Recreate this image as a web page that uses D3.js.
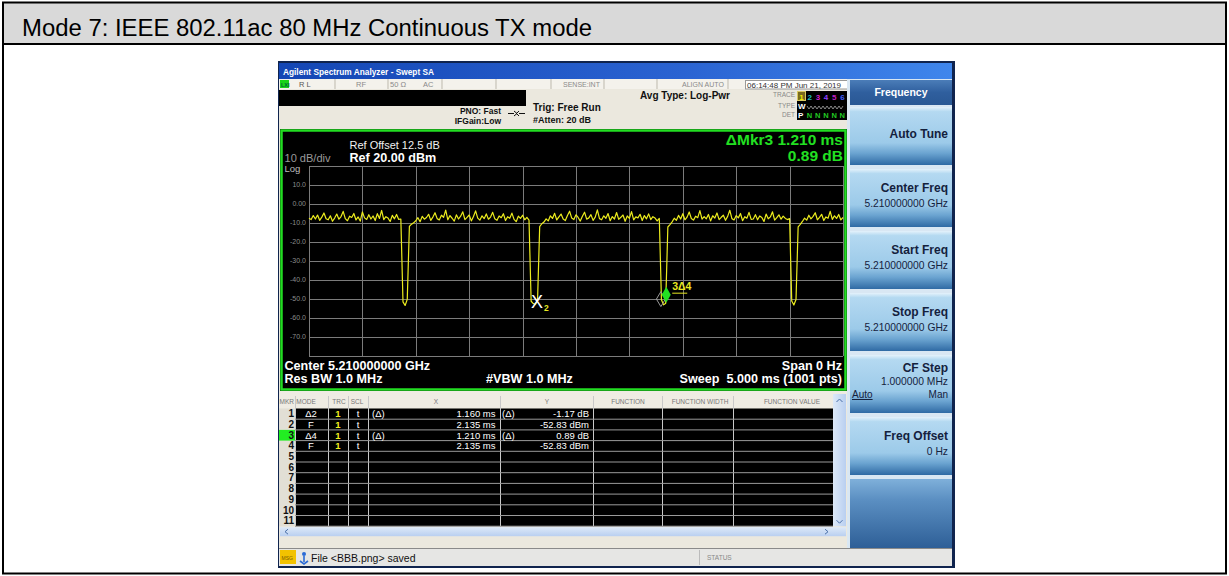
<!DOCTYPE html>
<html><head><meta charset="utf-8">
<script src="https://cdn.jsdelivr.net/npm/d3@7"></script>
<style>
html,body{margin:0;padding:0;background:#fff;}
svg{display:block;font-family:"Liberation Sans",Arial,Helvetica,sans-serif;}
</style></head><body>
<svg id="c" width="1229" height="576"></svg>
<script>
// ---------------- DATA ----------------
const pageTitle = "Mode 7: IEEE 802.11ac 80 MHz Continuous TX mode";
const windowTitle = "Agilent Spectrum Analyzer - Swept SA";
const sweepMs = 5;          // span of time axis
const stepMs = 0.02;        // spacing of the trace samples below
// trace level (dBm), one value every 0.02 ms from 0 to 5 ms
const traceDbm = [
 -7.5,-8.2,-6.1,-7.9,-5.8,-8.6,-6.9,-4.7,-7.8,-8.3,
 -6.2,-9.1,-7.4,-5.3,-8.0,-6.6,-3.9,-7.7,-8.8,-6.4,
 -7.1,-5.0,-8.4,-6.8,-9.0,-4.2,-7.3,-8.1,-5.6,-7.9,
 -6.3,-8.7,-5.1,-7.6,-3.4,-8.2,-6.7,-7.4,-9.2,-6.0,
 -7.8,-5.5,-8.1,-7.9,
 -51.5,-53.4,-50.2,
 -11.8,-10.6,-9.9,
 -8.8,-7.2,-9.3,-6.5,-8.0,-7.1,-5.4,-8.6,-6.9,-4.6,
 -7.7,-8.4,-5.9,-7.0,-3.2,-8.3,-6.1,-7.5,-9.0,-5.7,
 -7.9,-6.4,-4.1,-8.2,-7.0,-5.8,-8.9,-6.6,-3.6,-7.4,
 -8.5,-6.2,-7.7,-5.2,-8.0,-6.9,-4.4,-7.8,-8.6,-6.3,
 -7.2,-5.1,-8.7,-6.7,-7.5,-4.8,-8.1,-9.3,-6.4,-7.6,
 -5.9,-8.3,-7.0,-8.5,
 -51.2,-52.4,-52.9,-50.6,
 -11.9,-10.4,
 -9.5,-7.8,-8.9,-6.2,-7.6,-4.9,-8.4,-6.8,-5.3,-7.9,
 -8.7,-6.0,-3.8,-7.4,-8.2,-5.7,-7.1,-9.0,-6.5,-4.3,
 -8.0,-7.3,-5.6,-8.6,-6.9,-3.1,-7.7,-8.3,-6.2,-7.5,
 -5.0,-8.8,-6.6,-7.9,-4.5,-8.1,-7.0,-5.8,-9.1,-6.3,
 -7.6,-4.0,-8.4,-6.8,-7.3,-5.4,-8.7,-6.1,-7.8,-5.2,
 -8.2,-6.7,-7.4,-8.9,-7.6,
 -50.4,-53.1,-52.2,
 -12.1,-10.8,
 -9.4,-7.5,-8.6,-6.0,-7.9,-5.1,-8.3,-6.9,-4.2,-7.6,
 -8.5,-6.4,-7.2,-3.5,-8.0,-6.6,-7.8,-5.5,-8.9,-6.2,
 -7.4,-4.7,-8.2,-7.0,-5.9,-8.6,-6.5,-3.3,-7.7,-8.4,
 -6.1,-7.3,-5.0,-8.8,-6.7,-7.5,-4.4,-8.1,-7.9,-5.6,
 -8.3,-6.3,-7.1,-9.2,-5.3,-7.8,-6.8,-4.1,-8.5,-7.2,
 -5.7,-8.0,-6.4,-7.6,-8.2,-7.7,
 -51.0,-53.2,-50.3,
 -12.0,-10.7,
 -9.2,-7.4,-8.5,-5.9,-7.8,-6.5,-4.6,-8.3,-7.0,-5.4,
 -8.7,-6.8,-7.5,-3.9,-8.1,-6.2,-7.6,-5.5,-8.4,-7.1
];
const yTickValues = [10, 0, -10, -20, -30, -40, -50, -60, -70];
const yTickLabels = ["10.0", "0.00", "-10.0", "-20.0", "-30.0", "-40.0", "-50.0", "-60.0", "-70.0"];
const refLevel = 20, dbPerDiv = 10, nDiv = 10;
// markers: time (ms) and level (dBm)
const markerIds   = ["1", "2", "3", "4"];
const markerTimes = [3.295, 2.135, 3.345, 2.135];
const markerLevels= [-54.00, -52.83, -51.94, -52.83];
// marker table
const tableHeaders = ["MKR","MODE","TRC","SCL","X","Y","FUNCTION","FUNCTION WIDTH","FUNCTION VALUE"];
const tableRows = [
 ["1","Δ2","1","t","(Δ)","1.160 ms","(Δ)","-1.17 dB"],
 ["2","F","1","t","","2.135 ms","","-52.83 dBm"],
 ["3","Δ4","1","t","(Δ)","1.210 ms","(Δ)","0.89 dB"],
 ["4","F","1","t","","2.135 ms","","-52.83 dBm"],
 ["5","","","","","","",""],["6","","","","","","",""],["7","","","","","","",""],
 ["8","","","","","","",""],["9","","","","","","",""],["10","","","","","","",""],["11","","","","","","",""]
];
const softkeyLabels = ["Auto Tune","Center Freq","Start Freq","Stop Freq","CF Step","Freq Offset"];
const softkeyValues = ["","5.210000000 GHz","5.210000000 GHz","5.210000000 GHz","1.000000 MHz","0 Hz"];
const traceNums = ["1","2","3","4","5","6"];
const traceColors = ["#f0f000","#20c0c0","#d020d0","#9040ff","#c020c0","#4060ff"];

// ---------------- DRAW ----------------
const svg = d3.select("#c");
const defs = svg.append("defs");
function grad(id, stops, horiz){
  const g = defs.append("linearGradient").attr("id",id)
    .attr("x1",0).attr("y1",0).attr("x2",horiz?1:0).attr("y2",horiz?0:1);
  stops.forEach(s=>g.append("stop").attr("offset",s[0]).attr("stop-color",s[1]));
}
grad("tb",[[0,"#1446b4"],[0.6,"#2a63d2"],[1,"#3f86ec"]],true);
grad("btn",[[0,"#e4f2fb"],[0.08,"#b4d9f1"],[0.62,"#9ccae9"],[0.8,"#6aa3d0"],[1,"#2f6aa4"]],false);
grad("fhead",[[0,"#4b7db8"],[0.5,"#2f5f9e"],[1,"#2a5894"]],false);
grad("blank",[[0,"#7fb0da"],[0.3,"#5b8fc2"],[1,"#2e5f97"]],false);
grad("sb",[[0,"#dde9f8"],[1,"#b9cff0"]],true);
grad("sbh",[[0,"#dde9f8"],[1,"#b9cff0"]],false);

function txt(g,x,y,s,o){
  o=o||{};
  const t=g.append("text").attr("x",x).attr("y",y).text(s)
    .attr("font-size",o.size||10).attr("fill",o.fill||"#000")
    .attr("font-weight",o.bold?"bold":"normal");
  if(o.anchor) t.attr("text-anchor",o.anchor);
  if(o.len) t.attr("textLength",o.len).attr("lengthAdjust","spacingAndGlyphs");
  if(o.deco) t.attr("text-decoration",o.deco);
  return t;
}

// page frame + header
svg.append("rect").attr("x",3).attr("y",3).attr("width",1222).attr("height",41).attr("fill","#d9d9d9");
const fr = svg.append("g").attr("stroke","#000").attr("stroke-width",2).attr("fill","none");
fr.append("rect").attr("x",3).attr("y",2.5).attr("width",1223).attr("height",571);
fr.append("line").attr("x1",3).attr("x2",1226).attr("y1",44).attr("y2",44);
txt(svg,22,36,pageTitle,{size:23.5,fill:"#000",len:570});

// analyzer window
const A = svg.append("g");
A.append("rect").attr("x",278).attr("y",61).attr("width",677).attr("height",507).attr("fill","#10244e");
A.append("rect").attr("x",279).attr("y",63).attr("width",673).attr("height",503).attr("fill","#ebe8de");
A.append("rect").attr("x",279).attr("y",63).attr("width",673).attr("height",16).attr("fill","url(#tb)");
txt(A,283,75,windowTitle,{size:8.5,bold:true,fill:"#fff",len:151});

// status row
A.append("rect").attr("x",279).attr("y",79).attr("width",568).attr("height",10).attr("fill","#f4f2ec");
[335,388,442,496,551,604,657,728].forEach(x=>A.append("line").attr("x1",x).attr("x2",x).attr("y1",79).attr("y2",89).attr("stroke","#bdb9ad"));
A.append("rect").attr("x",280).attr("y",80).attr("width",9).attr("height",8).attr("fill","#19d419");
txt(A,281,87,"LXI",{size:5.5,bold:true,fill:"#063"});
const sc="#8a8a8a";
txt(A,299,87,"R L",{size:7.5,fill:"#555"});
txt(A,356,87,"RF",{size:7.5,fill:sc});
txt(A,390,87,"50 Ω",{size:7.5,fill:sc});
txt(A,423,87,"AC",{size:7.5,fill:sc});
txt(A,563,87,"SENSE:INT",{size:7,fill:sc});
txt(A,682,87,"ALIGN AUTO",{size:7,fill:sc});
A.append("rect").attr("x",745.5).attr("y",80.5).attr("width",102).attr("height",8.5).attr("fill","#fff").attr("stroke","#999");
txt(A,747,87.5,"06:14:48 PM Jun 21, 2019",{size:7.5,fill:"#333",len:94});

// black bar & settings
A.append("rect").attr("x",279).attr("y",90).attr("width",247).attr("height",16).attr("fill","#000");
txt(A,501,114,"PNO: Fast",{size:8.5,bold:true,anchor:"end",fill:"#111"});
txt(A,501,124,"IFGain:Low",{size:8.5,bold:true,anchor:"end",fill:"#111"});
A.append("path").attr("d","M508,113.5 H514 M514,111 L517,113.5 L514,116 M525,113.5 H519 M519,111 L516.5,113.5 L519,116").attr("stroke","#111").attr("fill","none").attr("stroke-width",1);
txt(A,533,111,"Trig: Free Run",{size:10,bold:true,fill:"#111"});
txt(A,533,123,"#Atten: 20 dB",{size:9,bold:true,fill:"#111"});
txt(A,640,99,"Avg Type: Log-Pwr",{size:10,bold:true,fill:"#111"});
// trace panel
txt(A,795,97,"TRACE",{size:6.5,anchor:"end",fill:"#888"});
txt(A,795,108,"TYPE",{size:6.5,anchor:"end",fill:"#888"});
txt(A,795,117,"DET",{size:6.5,anchor:"end",fill:"#888"});
A.append("rect").attr("x",797).attr("y",91).attr("width",50).attr("height",29).attr("fill","#000");
A.append("rect").attr("x",797.5).attr("y",91.5).attr("width",8).attr("height",9).attr("fill","#7a6a20").attr("stroke","#d8c860");
traceNums.forEach((n,i)=>txt(A,801.5+i*8.2,99.5,n,{size:8,bold:true,fill:traceColors[i],anchor:"middle"}));
txt(A,798,109,"W",{size:8,bold:true,fill:"#fff"});
A.append("path").attr("d","M807,106 l2,3 l2,-3 l2,3 l2,-3 l2,3 l2,-3 l2,3 l2,-3 l2,3 l2,-3 l2,3 l2,-3 l2,3 l2,-3 l2,3 l2,-3 l2,3 l2,-3").attr("stroke","#aaa").attr("fill","none").attr("stroke-width",0.8);
txt(A,798,118,"P",{size:8,bold:true,fill:"#fff"});
[0,1,2,3,4].forEach(i=>txt(A,809.5+i*8.2,118,"N",{size:7.5,bold:true,fill:"#22c822",anchor:"middle"}));

// softkey panel
const K = A.append("g");
K.append("rect").attr("x",847).attr("y",79).attr("width",105).attr("height",469).attr("fill","#d9e7f3");
K.append("rect").attr("x",850).attr("y",80).attr("width",102).attr("height",25).attr("fill","url(#fhead)");
txt(K,901,96,"Frequency",{size:10.5,bold:true,fill:"#fff",anchor:"middle"});
const btnTop = d3.scaleLinear().domain([0,1]).range([107,169]);
const kc = "#14213d";
softkeyLabels.forEach((lab,i)=>{
  const t0 = btnTop(i);
  K.append("rect").attr("x",850).attr("y",t0).attr("width",102).attr("height",58).attr("fill","url(#btn)");
  const isCF = lab==="CF Step";
  if(i===0){ txt(K,948,t0+31,lab,{size:12,bold:true,fill:kc,anchor:"end"}); }
  else if(isCF){
    txt(K,948,t0+17,lab,{size:12,bold:true,fill:kc,anchor:"end"});
    txt(K,948,t0+30,softkeyValues[i],{size:10.3,fill:kc,anchor:"end"});
    txt(K,852,t0+43,"Auto",{size:10,fill:kc,deco:"underline"});
    txt(K,948,t0+43,"Man",{size:10,fill:kc,anchor:"end"});
  } else {
    txt(K,948,t0+23,lab,{size:12,bold:true,fill:kc,anchor:"end"});
    txt(K,948,t0+38,softkeyValues[i],{size:10.3,fill:kc,anchor:"end"});
  }
});
K.append("rect").attr("x",850).attr("y",btnTop(6)).attr("width",102).attr("height",548-btnTop(6)).attr("fill","url(#blank)");

// ---------------- GRAPH ----------------
const G = A.append("g");
G.append("rect").attr("x",280).attr("y",129).attr("width",567).attr("height",262).attr("fill","#000");
G.append("rect").attr("x",281.5).attr("y",130.5).attr("width",564).attr("height",259).attr("fill","none").attr("stroke","#22dd22").attr("stroke-width",2.5);
const x = d3.scaleLinear().domain([0, sweepMs]).range([309, 843]);
const y = d3.scaleLinear().domain([refLevel - dbPerDiv*nDiv, refLevel]).range([356, 166]);
const grid = G.append("g").attr("stroke","#7b7b7b").attr("stroke-width",1);
grid.selectAll("line.v").data(d3.range(0, nDiv+1)).join("line")
  .attr("x1",d=>Math.round(x(d*sweepMs/nDiv))+0.5).attr("x2",d=>Math.round(x(d*sweepMs/nDiv))+0.5)
  .attr("y1",y(refLevel)).attr("y2",y(refLevel-dbPerDiv*nDiv));
grid.selectAll("line.h").data(d3.range(0, nDiv+1)).join("line")
  .attr("y1",d=>Math.round(y(refLevel-d*dbPerDiv))+0.5).attr("y2",d=>Math.round(y(refLevel-d*dbPerDiv))+0.5)
  .attr("x1",x(0)).attr("x2",x(sweepMs));
G.selectAll("text.yl").data(yTickValues).join("text")
  .attr("x",306).attr("y",d=>y(d)).attr("dy","0.35em").attr("text-anchor","end")
  .attr("font-size",7).attr("fill","#8c8c8c").text((d,i)=>yTickLabels[i]);
txt(G,284.5,161.5,"10 dB/div",{size:10,fill:"#9a9a9a",len:46});
txt(G,284.5,171.5,"Log",{size:9.5,fill:"#bdbdbd"});
txt(G,349.5,148.5,"Ref Offset 12.5 dB",{size:11,fill:"#f0f0f0"});
txt(G,349.5,162,"Ref 20.00 dBm",{size:12.6,bold:true,fill:"#fff"});
txt(G,843,145,"ΔMkr3 1.210 ms",{size:15.5,bold:true,fill:"#22e022",anchor:"end"});
txt(G,843,160.5,"0.89 dB",{size:15.5,bold:true,fill:"#22e022",anchor:"end"});
txt(G,284.5,369.5,"Center 5.210000000 GHz",{size:12.6,bold:true,fill:"#fff"});
txt(G,284.5,383,"Res BW 1.0 MHz",{size:12.6,bold:true,fill:"#fff"});
txt(G,486,383,"#VBW 1.0 MHz",{size:12.6,bold:true,fill:"#fff"});
txt(G,842,369.5,"Span 0 Hz",{size:12.6,bold:true,fill:"#fff",anchor:"end"});
txt(G,842,383,"Sweep  5.000 ms (1001 pts)",{size:12.6,bold:true,fill:"#fff",anchor:"end"}).attr("xml:space","preserve");

// trace
const line = d3.line().x((d,i)=>x(i*stepMs)).y(d=>y(d));
G.append("path").datum(traceDbm).attr("d",line).attr("fill","none")
  .attr("stroke","#ecec1e").attr("stroke-width",1.2).attr("stroke-linejoin","round");

// markers
const mk = markerIds.map((id,i)=>({id, t:markerTimes[i], v:markerLevels[i]}));
const m1 = mk[0], m2 = mk[1], m3 = mk[2];
G.append("path").attr("d",`M${x(m1.t)},${y(m1.v)} l-4.5,-7.5 l4.5,-7.5 l4.5,7.5 z`)
  .attr("fill","none").attr("stroke","#9a9a9a").attr("stroke-width",1);
G.append("path").attr("d",`M${x(m3.t)},${y(m3.v)} l-4.5,-8 l4.5,-8 l4.5,8 z`).attr("fill","#22e022");
txt(G,x(m3.t)+6,y(m3.v)-12.5,"3Δ4",{size:10.5,bold:true,fill:"#e8e820"});
G.append("line").attr("x1",x(m3.t)+6).attr("x2",x(m3.t)+21).attr("y1",y(m3.v)-9.5).attr("y2",y(m3.v)-9.5).attr("stroke","#e8e820").attr("stroke-width",1);
G.append("text").attr("x",x(m2.t)).attr("y",y(m2.v)+4).attr("text-anchor","middle")
  .attr("font-size",18).attr("fill","#fff").text("X");
txt(G,x(m2.t)+7,y(m2.v)+7,"2",{size:8.5,bold:true,fill:"#e8e820"});

// ---------------- MARKER TABLE ----------------
const T = A.append("g");
const colLines = [295,328,348,368,500,593,662,733];
const rowTop = 408.5, rowH = 10.7;
T.append("rect").attr("x",279).attr("y",391).attr("width",568).attr("height",17.5).attr("fill","#efece3");
T.append("rect").attr("x",295).attr("y",rowTop).attr("width",538).attr("height",rowH*tableRows.length).attr("fill","#000");
T.append("rect").attr("x",279).attr("y",rowTop).attr("width",16).attr("height",rowH*tableRows.length).attr("fill","#e2dfd5");
T.append("rect").attr("x",279).attr("y",rowTop+rowH*2).attr("width",16).attr("height",rowH).attr("fill","#22ee22");
const hdrX = [294,306,339,357,436,547,628,700,792];
tableHeaders.forEach((h,i)=>txt(T,hdrX[i],404,h,{size:6.5,fill:"#777",anchor:i===0?"end":"middle"}));
colLines.forEach(cx=>T.append("line").attr("x1",cx+0.5).attr("x2",cx+0.5).attr("y1",396).attr("y2",rowTop+rowH*tableRows.length).attr("stroke","#c8c8c8").attr("stroke-width",1));
tableRows.forEach((r,i)=>{
  const yy = rowTop + rowH*(i+1);
  T.append("line").attr("x1",295).attr("x2",833).attr("y1",yy).attr("y2",yy).attr("stroke","#9a9a9a").attr("stroke-width",1);
  const by = rowTop + rowH*i + 8.7;
  txt(T,294,by,r[0],{size:10,bold:true,fill:"#111",anchor:"end"});
  txt(T,311,by,r[1],{size:9.5,fill:"#fff",anchor:"middle"});
  txt(T,338,by,r[2],{size:9.5,bold:true,fill:"#f0f020",anchor:"middle"});
  txt(T,358,by,r[3],{size:9.5,fill:"#fff",anchor:"middle"});
  txt(T,372,by,r[4],{size:9.5,fill:"#fff"});
  txt(T,495.5,by,r[5],{size:9.5,fill:"#fff",anchor:"end"});
  txt(T,502,by,r[6],{size:9.5,fill:"#fff"});
  txt(T,589,by,r[7],{size:9.5,fill:"#fff",anchor:"end"});
});
const tb = rowTop+rowH*tableRows.length;
T.append("rect").attr("x",833).attr("y",394).attr("width",13).attr("height",tb-394).attr("fill","url(#sb)");
T.append("path").attr("d","M836.5,402 l3,-3 l3,3").attr("stroke","#4a6fa8").attr("fill","none");
T.append("path").attr("d",`M836.5,${tb-6} l3,3 l3,-3`).attr("stroke","#4a6fa8").attr("fill","none");
T.append("rect").attr("x",280).attr("y",tb+1).attr("width",566).attr("height",9).attr("fill","url(#sbh)");
T.append("path").attr("d",`M288,${tb+3} l-3,2.5 l3,2.5`).attr("stroke","#4a6fa8").attr("fill","none");
T.append("path").attr("d",`M825,${tb+3} l3,2.5 l-3,2.5`).attr("stroke","#4a6fa8").attr("fill","none");

// status bar
A.append("rect").attr("x",279).attr("y",548).attr("width",673).attr("height",18).attr("fill","#e6e6e4");
A.append("line").attr("x1",279).attr("x2",952).attr("y1",548.5).attr("y2",548.5).attr("stroke","#8a8a8a");
A.append("rect").attr("x",280).attr("y",550).attr("width",16).attr("height",14).attr("fill","#f2c200");
txt(A,281.5,559.5,"MSG",{size:5,fill:"#7a5a00"});
A.append("circle").attr("cx",304).attr("cy",554).attr("r",2).attr("fill","#2b6bd6");
A.append("path").attr("d","M304,556 V562 M300,561 L304,564 L308,561").attr("stroke","#2b6bd6").attr("stroke-width",1.6).attr("fill","none");
txt(A,311,561.5,"File <BBB.png> saved",{size:10.5,fill:"#111"});
A.append("line").attr("x1",699.5).attr("x2",699.5).attr("y1",550).attr("y2",565).attr("stroke","#bbb");
txt(A,707,560,"STATUS",{size:6.5,fill:"#888"});
</script>
</body></html>
